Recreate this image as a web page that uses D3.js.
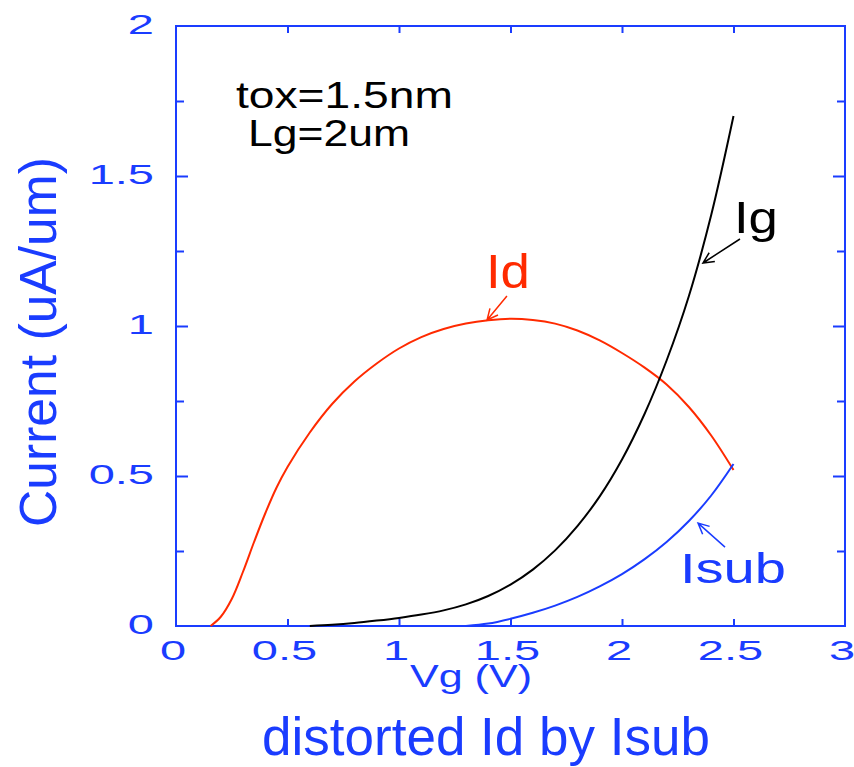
<!DOCTYPE html>
<html>
<head>
<meta charset="utf-8">
<script src="https://cdn.jsdelivr.net/npm/d3@7"></script>
<style>
  html, body { margin: 0; padding: 0; background: #fff; }
  svg { display: block; font-family: "Liberation Sans", Arial, sans-serif; }
</style>
</head>
<body>
<svg id="chart" width="854" height="767"></svg>
<script>
// Gate voltage sweeps (V) and currents (uA/um)
const idVg = [0.155, 0.2, 0.25, 0.3, 0.35, 0.4, 0.45, 0.5, 0.6, 0.7, 0.8, 0.9, 1.0, 1.1, 1.2, 1.3, 1.4, 1.5, 1.6, 1.7, 1.8, 1.9, 2.0, 2.1, 2.2, 2.3, 2.4, 2.5];
const idVal = [0.0, 0.03, 0.09, 0.18, 0.28, 0.375, 0.46, 0.53, 0.645, 0.74, 0.815, 0.875, 0.925, 0.963, 0.99, 1.008, 1.019, 1.024, 1.02, 1.008, 0.985, 0.952, 0.91, 0.862, 0.805, 0.73, 0.635, 0.52];

const igVg = [0.6, 0.7, 0.8, 0.9, 1.0, 1.1, 1.2, 1.3, 1.4, 1.5, 1.6, 1.7, 1.8, 1.9, 2.0, 2.1, 2.2, 2.3, 2.4, 2.5];
const igVal = [0.0, 0.004, 0.01, 0.018, 0.027, 0.038, 0.052, 0.072, 0.1, 0.138, 0.188, 0.252, 0.333, 0.432, 0.555, 0.705, 0.885, 1.1, 1.37, 1.70];

const isubVg = [1.3, 1.4, 1.5, 1.6, 1.7, 1.8, 1.9, 2.0, 2.1, 2.2, 2.3, 2.4, 2.5];
const isubVal = [0.0, 0.008, 0.024, 0.044, 0.068, 0.097, 0.132, 0.173, 0.222, 0.28, 0.35, 0.435, 0.54];

const xTicks = [0, 0.5, 1, 1.5, 2, 2.5, 3];
const xTickLabels = ["0", "0.5", "1", "1.5", "2", "2.5", "3"];
const yTicks = [0, 0.5, 1, 1.5, 2];
const yTickLabels = ["0", "0.5", "1", "1.5", "2"];
const yMinorTicks = [0.25, 0.75, 1.25, 1.75];

const blue = "#1a3cff";
const red = "#ff2a00";

const svg = d3.select("#chart");
const L = 176, R = 845, T = 26, B = 626;

const x = d3.scaleLinear().domain([0, 3]).range([L, R]);
const y = d3.scaleLinear().domain([0, 2]).range([B, T]);

// Axes with inward ticks on all four sides
const tickStyle = g => { g.select(".domain").remove(); g.selectAll("line").attr("stroke", blue).attr("stroke-width", 2); g.selectAll("text").remove(); };
svg.append("g").attr("transform", `translate(0,${B})`)
  .call(d3.axisBottom(x).tickValues(xTicks.slice(1, -1)).tickSizeInner(-7).tickSizeOuter(0)).call(tickStyle);
svg.append("g").attr("transform", `translate(0,${T})`)
  .call(d3.axisTop(x).tickValues(xTicks.slice(1, -1)).tickSizeInner(-7).tickSizeOuter(0)).call(tickStyle);
svg.append("g").attr("transform", `translate(${L},0)`)
  .call(d3.axisLeft(y).tickValues(yTicks.slice(1, -1)).tickSizeInner(-12).tickSizeOuter(0)).call(tickStyle);
svg.append("g").attr("transform", `translate(${L},0)`)
  .call(d3.axisLeft(y).tickValues(yMinorTicks).tickSizeInner(-8).tickSizeOuter(0)).call(tickStyle);
svg.append("g").attr("transform", `translate(${R},0)`)
  .call(d3.axisRight(y).tickValues(yTicks.slice(1, -1)).tickSizeInner(-12).tickSizeOuter(0)).call(tickStyle);
svg.append("g").attr("transform", `translate(${R},0)`)
  .call(d3.axisRight(y).tickValues(yMinorTicks).tickSizeInner(-8).tickSizeOuter(0)).call(tickStyle);

svg.append("rect").attr("x", L).attr("y", T).attr("width", R - L).attr("height", B - T)
  .attr("fill", "none").attr("stroke", blue).attr("stroke-width", 2);

// Tick labels in a horizontally stretched face
const stretch = 1.65;
xTicks.forEach((v, i) => {
  svg.append("g").attr("transform", `translate(${x(v) - 3},660) scale(${stretch},1)`)
    .append("text").attr("text-anchor", "middle").attr("font-size", 28.5).attr("fill", blue)
    .text(xTickLabels[i]);
});
yTicks.forEach((v, i) => {
  svg.append("g").attr("transform", `translate(154,${y(v) + 8}) scale(${stretch},1)`)
    .append("text").attr("text-anchor", "end").attr("font-size", 28.5).attr("fill", blue)
    .text(yTickLabels[i]);
});

// Axis titles
svg.append("text").attr("x", 471).attr("y", 687).attr("text-anchor", "middle")
  .attr("font-size", 31).attr("fill", blue).attr("textLength", 122).attr("lengthAdjust", "spacingAndGlyphs")
  .text("Vg (V)");
svg.append("text").attr("transform", "translate(56,342) rotate(-90)").attr("text-anchor", "middle")
  .attr("font-size", 52).attr("fill", blue).attr("textLength", 370).attr("lengthAdjust", "spacingAndGlyphs")
  .text("Current (uA/um)");
svg.append("text").attr("x", 486).attr("y", 755).attr("text-anchor", "middle")
  .attr("font-size", 53).attr("fill", blue)
  .text("distorted Id by Isub");

// Curves
const line = d3.line().x(d => x(d[0])).y(d => y(d[1])).curve(d3.curveCatmullRom.alpha(0.5));
const series = [
  { vg: idVg, val: idVal, color: red },
  { vg: igVg, val: igVal, color: "#000" },
  { vg: isubVg, val: isubVal, color: blue }
];
series.forEach(s => {
  svg.append("path").datum(d3.zip(s.vg, s.val)).attr("d", line)
    .attr("fill", "none").attr("stroke", s.color).attr("stroke-width", 2);
});

// Curve labels with pointer arrows (data units)
const labels = [
  { text: "Id", at: [1.39, 1.127], size: 49, len: 44, color: red, tail: [1.484, 1.10], tip: [1.395, 1.02] },
  { text: "Ig", at: [2.502, 1.31], size: 44, len: 44, color: "#000", tail: [2.529, 1.29], tip: [2.363, 1.21] },
  { text: "Isub", at: [2.26, 0.143], size: 42, len: 106, color: blue, tail: [2.462, 0.263], tip: [2.341, 0.343] }
];
labels.forEach(l => {
  svg.append("text").attr("x", x(l.at[0])).attr("y", y(l.at[1]))
    .attr("font-size", l.size).attr("fill", l.color)
    .attr("textLength", l.len).attr("lengthAdjust", "spacingAndGlyphs").text(l.text);
  const x1 = x(l.tail[0]), y1 = y(l.tail[1]), x2 = x(l.tip[0]), y2 = y(l.tip[1]);
  const a = Math.atan2(y1 - y2, x1 - x2), h = 12, w = 0.45;
  const p = d3.path();
  p.moveTo(x1, y1); p.lineTo(x2, y2);
  p.moveTo(x2 + h * Math.cos(a - w), y2 + h * Math.sin(a - w)); p.lineTo(x2, y2);
  p.lineTo(x2 + h * Math.cos(a + w), y2 + h * Math.sin(a + w));
  svg.append("path").attr("d", p.toString()).attr("fill", "none")
    .attr("stroke", l.color).attr("stroke-width", 1.5);
});

// Device parameters
svg.append("text").attr("x", x(0.269)).attr("y", y(1.727)).attr("font-size", 37).attr("fill", "#000")
  .attr("textLength", 217).attr("lengthAdjust", "spacingAndGlyphs").text("tox=1.5nm");
svg.append("text").attr("x", x(0.323)).attr("y", y(1.60)).attr("font-size", 37).attr("fill", "#000")
  .attr("textLength", 162).attr("lengthAdjust", "spacingAndGlyphs").text("Lg=2um");
</script>
</body>
</html>
